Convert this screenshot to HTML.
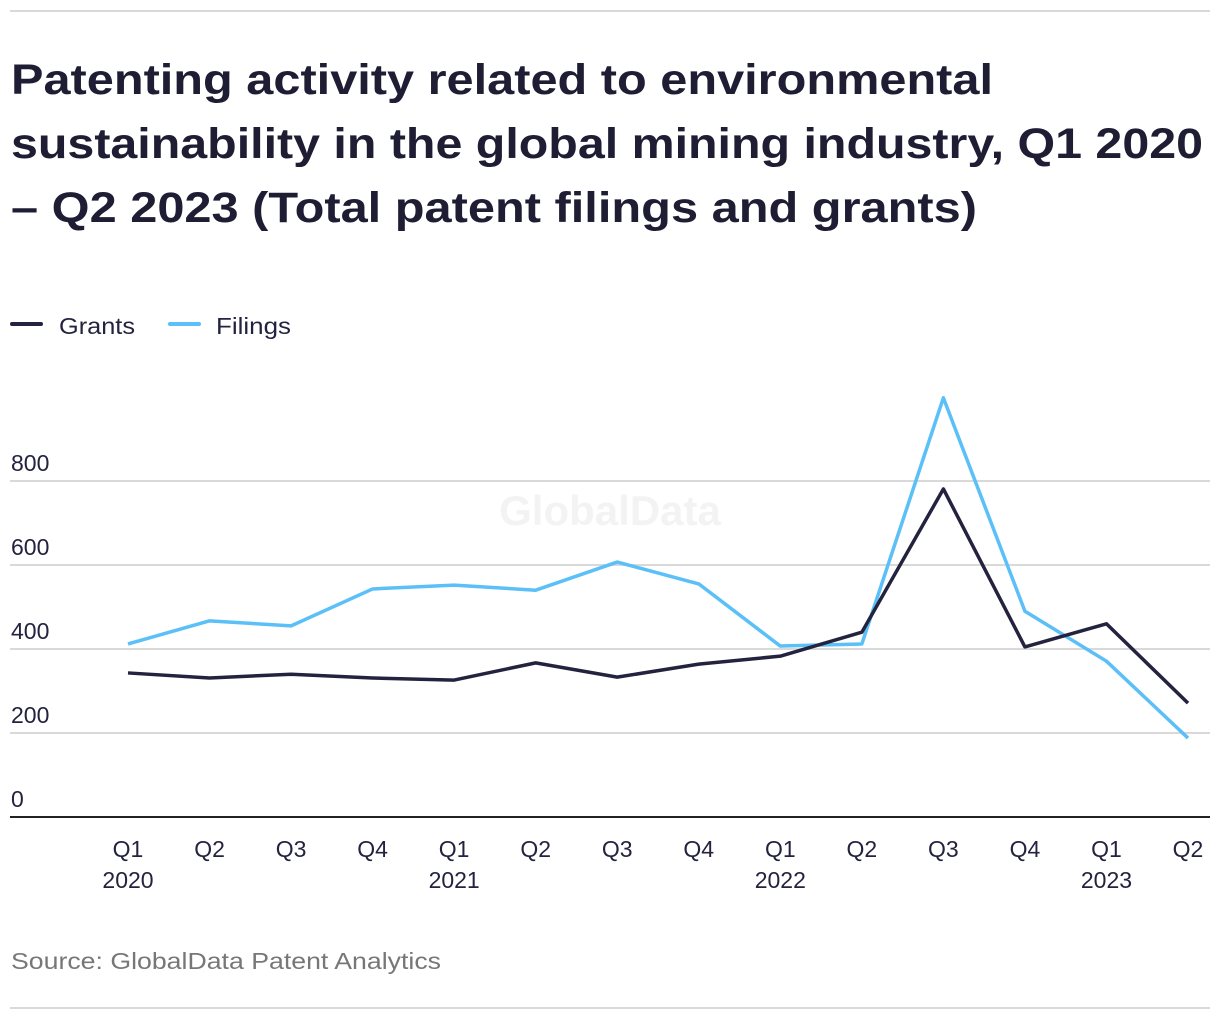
<!DOCTYPE html>
<html><head><meta charset="utf-8">
<style>
body{margin:0;background:#fff;width:1220px;height:1020px;overflow:hidden;font-family:"Liberation Sans",sans-serif;}
</style></head>
<body>
<svg width="1220" height="1020" xmlns="http://www.w3.org/2000/svg" id="chart">
<line x1="10" y1="11" x2="1210" y2="11" stroke="#d9d9d9" stroke-width="2"/>
<line x1="10" y1="1008" x2="1210" y2="1008" stroke="#d9d9d9" stroke-width="2"/>
<g font-size="43" font-weight="bold" fill="#1e1d33">
<text x="11" y="94" textLength="982" lengthAdjust="spacingAndGlyphs">Patenting activity related to environmental</text>
<text x="11" y="158" textLength="1192" lengthAdjust="spacingAndGlyphs">sustainability in the global mining industry, Q1 2020</text>
<text x="11" y="222" textLength="966" lengthAdjust="spacingAndGlyphs">– Q2 2023 (Total patent filings and grants)</text>
</g>
<g font-size="23" fill="#24233f">
<line x1="12" y1="324" x2="41" y2="324" stroke="#24233f" stroke-width="4" stroke-linecap="round"/>
<text x="59" y="334" textLength="76" lengthAdjust="spacingAndGlyphs">Grants</text>
<line x1="170" y1="324" x2="199" y2="324" stroke="#5bc0f8" stroke-width="4" stroke-linecap="round"/>
<text x="216" y="334" textLength="75" lengthAdjust="spacingAndGlyphs">Filings</text>
</g>
<text x="610" y="525" text-anchor="middle" font-size="42" font-weight="bold" fill="#f3f3f3">GlobalData</text>
<g id="grid"></g>
<g id="xlabels"></g>
<g id="lines"></g>
<text x="11" y="969" font-size="23" fill="#777" textLength="430" lengthAdjust="spacingAndGlyphs">Source: GlobalData Patent Analytics</text>
</svg>
<script>
const categories=["Q1|2020","Q2","Q3","Q4","Q1|2021","Q2","Q3","Q4","Q1|2022","Q2","Q3","Q4","Q1|2023","Q2"];
const grants=[343,331,340,331,326,367,333,364,383,440,781,405,460,271];
const filings=[412,467,455,543,552,540,607,555,407,412,998,490,371,188];
const yTicks=[0,200,400,600,800];
const NS="http://www.w3.org/2000/svg";
const x=i=>128+i*(1188-128)/(categories.length-1);
const y=v=>817-v*0.42;
function mk(tag,attrs,parent){const e=document.createElementNS(NS,tag);for(const k in attrs)e.setAttribute(k,attrs[k]);parent.appendChild(e);return e;}
const grid=document.getElementById('grid');
yTicks.forEach(t=>{
  const l=mk('line',{x1:10,x2:1210,y1:y(t),y2:y(t),stroke:t===0?'#222':'#d9d9d9','stroke-width':2},grid);
  
  
  const tx=mk('text',{x:11,y:y(t)-10,'font-size':23,fill:'#24233f'},grid);
  tx.textContent=t;
  
  
});
const xl=document.getElementById('xlabels');
categories.forEach((c,i)=>{
  const parts=c.split('|');
  parts.forEach((p,j)=>{
    const tx=mk('text',{x:x(i),y:857+j*31,'font-size':23,fill:'#24233f','text-anchor':'middle'},xl);
    tx.textContent=p;
    
    
  });
});
const lg=document.getElementById('lines');
[[filings,'#5bc0f8','filings-line'],[grants,'#24233f','grants-line']].forEach(([d,col,name])=>{
  const p=mk('polyline',{points:d.map((v,i)=>x(i)+','+y(v)).join(' '),fill:'none',stroke:col,'stroke-width':3.5,'stroke-linejoin':'round'},lg);
  
  
});
</script>
</body></html>
